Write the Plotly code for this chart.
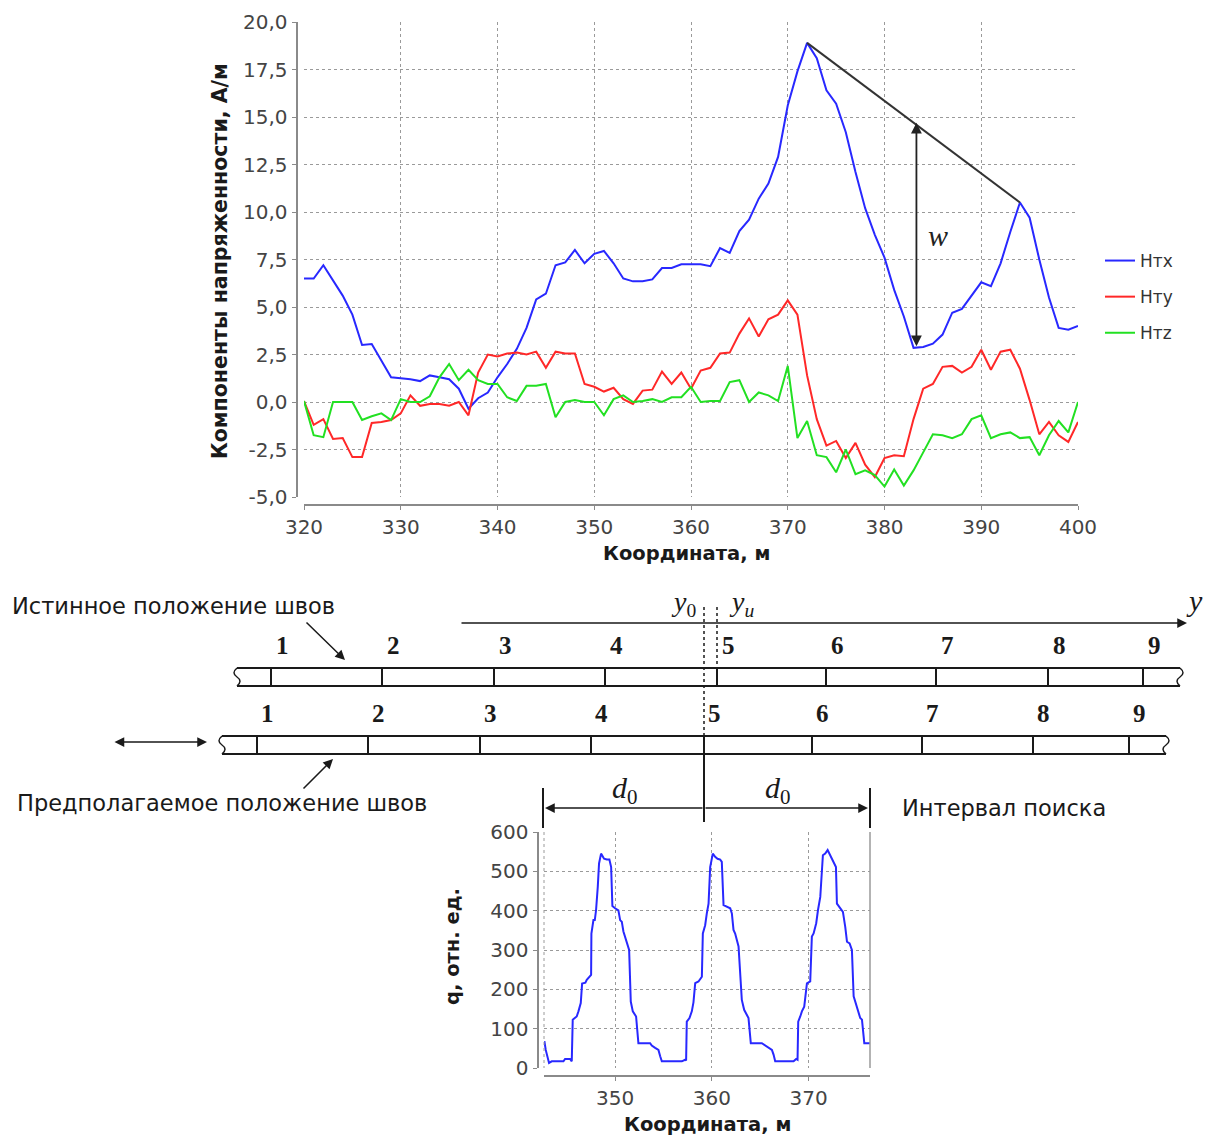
import plotly.graph_objects as go

W, H = 1205, 1137


def px(x):
    return x / W


def py(y):
    return 1 - y / H


# ---------------- top chart data ----------------
coord = list(range(320, 401))
htx = [6.5, 6.5, 7.2, 6.4, 5.6, 4.6, 3.0, 3.05, 2.2, 1.3,
       1.25, 1.2, 1.1, 1.4, 1.3, 1.2, 0.7, -0.35, 0.2, 0.5,
       1.3, 2.0, 2.8, 3.9, 5.4, 5.7, 7.2, 7.35, 8.0, 7.3,
       7.8, 7.95, 7.3, 6.5, 6.35, 6.35, 6.45, 7.05, 7.05, 7.25,
       7.25, 7.25, 7.15, 8.1, 7.85, 9.0, 9.6, 10.7, 11.5, 12.9,
       15.6, 17.4, 18.9, 18.1, 16.4, 15.7, 14.2, 12.1, 10.2, 8.8,
       7.6, 5.9, 4.5, 2.85, 2.9, 3.07, 3.55, 4.7, 4.9, 5.6,
       6.3, 6.1, 7.3, 8.95, 10.5, 9.7, 7.5, 5.5, 3.9, 3.8,
       4.0]
hty = [0.05, -1.2, -0.9, -1.95, -1.9, -2.9, -2.9, -1.1, -1.05, -0.95,
       -0.6, 0.35, -0.2, -0.1, -0.1, -0.2, 0.0, -0.7, 1.55, 2.5,
       2.4, 2.55, 2.6, 2.5, 2.65, 1.8, 2.65, 2.55, 2.55, 0.95,
       0.8, 0.55, 0.75, 0.15, -0.1, 0.6, 0.65, 1.6, 0.95, 1.55,
       0.7, 1.65, 1.8, 2.55, 2.6, 3.6, 4.4, 3.45, 4.35, 4.6,
       5.35, 4.6, 1.4, -0.9, -2.3, -2.05, -2.95, -2.15, -3.3, -3.95,
       -2.95, -2.8, -2.85, -0.9, 0.7, 0.95, 1.85, 1.9, 1.55, 1.85,
       2.75, 1.7, 2.65, 2.75, 1.75, 0.1, -1.7, -1.05, -1.75, -2.1,
       -1.05]
htz = [0.05, -1.75, -1.85, 0.0, 0.0, 0.0, -0.95, -0.75, -0.6, -0.95,
       0.15, 0.0, 0.0, 0.3, 1.3, 2.0, 1.15, 1.7, 1.15, 0.95,
       0.95, 0.25, 0.05, 0.85, 0.85, 0.95, -0.8, 0.0, 0.1, 0.0,
       0.0, -0.7, 0.15, 0.35, 0.0, 0.05, 0.15, 0.0, 0.25, 0.25,
       0.8, 0.0, 0.05, 0.05, 1.05, 1.15, 0.0, 0.5, 0.35, 0.05,
       1.9, -1.9, -1.0, -2.8, -2.9, -3.7, -2.5, -3.8, -3.6, -3.85,
       -4.45, -3.55, -4.4, -3.6, -2.65, -1.7, -1.75, -1.9, -1.7, -0.9,
       -0.7, -1.9, -1.7, -1.6, -1.9, -1.85, -2.8, -1.75, -1.0, -1.6,
       0.0]
top_yticks = [-5, -2.5, 0, 2.5, 5, 7.5, 10, 12.5, 15, 17.5, 20]
top_yticklabels = ["-5,0", "-2,5", "0,0", "2,5", "5,0", "7,5", "10,0",
                   "12,5", "15,0", "17,5", "20,0"]
top_xticks = [320, 330, 340, 350, 360, 370, 380, 390, 400]
series_names = ["Нтх", "Нту", "Нтz"]

# ---------------- bottom chart data ----------------
q_coord = [342.69, 342.83, 343.17, 343.45, 344.66, 344.83, 345.34, 345.52,
           345.62, 346.03, 346.21, 346.45, 346.59, 346.93, 347.07, 347.52,
           347.55, 347.76, 347.9, 348.03, 348.21, 348.34, 348.55, 348.72,
           348.86, 349.14, 349.41, 349.59, 349.72, 350.0, 350.34, 350.52,
           350.69, 350.86, 351.21, 351.45, 351.62, 351.83, 352.17, 352.41,
           353.62, 353.79, 354.14, 354.48, 354.66, 354.83, 356.9, 357.24,
           357.34,
           357.41, 357.69, 357.93, 358.1, 358.28, 358.62, 358.97, 359.07,
           359.31, 359.48, 359.66, 359.83, 360.1, 360.34, 360.59, 360.86,
           361.03, 361.21, 361.55, 361.9, 362.07, 362.24, 362.41, 362.76,
           363.1, 363.34, 363.79, 364.03, 365.17, 365.69, 366.21, 366.38,
           366.55, 368.45, 368.72, 368.86,
           368.93, 369.14, 369.31, 369.55, 369.83, 370.17, 370.34, 370.52,
           370.79, 370.97, 371.21, 371.48, 371.72, 371.97, 372.24, 372.59,
           372.83, 372.93, 373.34, 373.55, 373.79, 373.97, 374.24, 374.48,
           374.66, 374.83, 375.17, 375.34, 375.52, 375.76, 376.38]
q_vals = [68, 46, 13, 17, 17, 23, 23, 17,
          123, 131, 144, 165, 215, 217, 224, 237,
          342, 376, 376, 401, 461, 520, 545, 537,
          532, 530, 530, 511, 412, 406, 401, 376,
          372, 347, 317, 300, 169, 144, 131, 63,
          63, 57, 51, 46, 30, 17, 17, 21,
          19,
          118, 127, 144, 167, 216, 220, 232, 342,
          363, 393, 418, 511, 545, 537, 532, 530,
          524, 414, 410, 406, 393, 351, 342, 309,
          173, 148, 127, 63, 63, 55, 46, 34,
          17, 17, 23, 21,
          118, 131, 144, 156, 215, 220, 334, 342,
          368, 401, 435, 541, 545, 554, 541, 524,
          511, 418, 406, 397, 359, 321, 317, 300,
          182, 169, 144, 127, 123, 63, 63]
q_xticks = [350, 360, 370]
q_yticks = [0, 100, 200, 300, 400, 500, 600]

# ---------------- diagram (schematic, pixel positions) ----------------
true_seams = [271, 382, 494, 605, 717, 826, 936, 1048, 1143]
assumed_seams = [257, 368, 480, 591, 704, 812, 922, 1033, 1129]
seam_labels = ["1", "2", "3", "4", "5", "6", "7", "8", "9"]

BLUE = "#2828ff"
RED = "#ff2828"
GREEN = "#22e022"
INK = "#1a1a1a"
GRID = "#9a9a9a"
TICKC = "#444444"
FONT = "DejaVu Sans"
SERIF = "Liberation Serif"

fig = go.Figure()
for vals, name, col in zip([htx, hty, htz], series_names, [BLUE, RED, GREEN]):
    fig.add_trace(go.Scatter(x=coord, y=vals, mode="lines", name=name,
                             legendgroup=name,
                             line=dict(color=col, width=2),
                             xaxis="x", yaxis="y"))
fig.add_trace(go.Scatter(x=q_coord, y=q_vals, mode="lines", showlegend=False,
                         line=dict(color=BLUE, width=2),
                         xaxis="x2", yaxis="y2"))


def axis_style(size):
    return dict(showgrid=True, gridcolor=GRID, griddash="3px,3px", gridwidth=1,
                zeroline=False, showline=True, linecolor="#8a8a8a", linewidth=2,
                ticks="outside", ticklen=4, tickcolor="#8a8a8a",
                tickfont=dict(family=FONT, size=size, color=TICKC),
                anchor="free", automargin=False)


fig.update_layout(
    width=W, height=H,
    margin=dict(l=0, r=0, t=0, b=0, pad=0, autoexpand=False),
    paper_bgcolor="white", plot_bgcolor="white",
    xaxis=dict(domain=[px(304), px(1078)], range=[320, 400],
               tickvals=top_xticks, position=py(505), **axis_style(20)),
    yaxis=dict(domain=[py(497), py(22)], range=[-5, 20],
               tickvals=top_yticks, ticktext=top_yticklabels,
               position=px(296.5), **axis_style(20)),
    xaxis2=dict(domain=[px(544), px(870)], range=[342.65, 376.35],
                tickvals=q_xticks, position=py(1076), **axis_style(20)),
    yaxis2=dict(domain=[py(1068), py(832)], range=[0, 600],
                tickvals=q_yticks, position=px(537.5), **axis_style(20)),
    legend=dict(x=px(1100), y=py(243), xanchor="left", yanchor="top",
                font=dict(family=FONT, size=17, color="#333"),
                traceorder="grouped", tracegroupgap=11, itemwidth=30,
                bgcolor="rgba(0,0,0,0)"),
    showlegend=True,
)

shapes = []
annotations = []


def pline(x0, y0, x1, y1, width=2, dash="solid", color=INK):
    shapes.append(dict(type="line", xref="paper", yref="paper",
                       x0=px(x0), y0=py(y0), x1=px(x1), y1=py(y1),
                       line=dict(color=color, width=width, dash=dash)))


def ptext(x, y, text, size, family=FONT, xanchor="left", color=INK, angle=0):
    annotations.append(dict(xref="paper", yref="paper", x=px(x), y=py(y),
                            text=text, showarrow=False, xanchor=xanchor,
                            yanchor="middle", textangle=angle,
                            font=dict(family=family, size=size, color=color)))


def parrow(x_head, y_head, x_tail, y_tail, both=False, width=1.5):
    annotations.append(dict(xref="paper", yref="paper", x=px(x_head), y=py(y_head),
                            ax=x_tail - x_head, ay=y_tail - y_head,
                            text="", showarrow=True, arrowhead=2, arrowsize=1.3,
                            arrowwidth=width, arrowcolor=INK, standoff=0,
                            startstandoff=0, startarrowhead=2, startarrowsize=1.3,
                            arrowside="end+start" if both else "end"))


# ---- top chart overlays: envelope line and w arrow (from data) ----
i_peak = htx.index(max(htx))
after = htx[i_peak:]
i_valley = i_peak + after.index(min(after))
rest = htx[i_valley:]
i_second = i_valley + rest.index(max(rest))
xp, yp = coord[i_peak], htx[i_peak]
xs, ys = coord[i_second], htx[i_second]
xv, yv = coord[i_valley], htx[i_valley]
y_env = yp + (xv - xp) / (xs - xp) * (ys - yp)
shapes.append(dict(type="line", xref="x", yref="y", x0=xp, y0=yp, x1=xs, y1=ys,
                   line=dict(color="#333", width=2)))
annotations.append(dict(xref="x", yref="y", x=xv + 0.3, y=y_env, axref="x", ayref="y",
                        ax=xv + 0.3, ay=yv, text="", showarrow=True, arrowhead=2,
                        arrowsize=1.2, arrowwidth=1.8, arrowcolor="#222",
                        startarrowhead=2, startarrowsize=1.2,
                        arrowside="end+start", standoff=0, startstandoff=0))
annotations.append(dict(xref="x", yref="y", x=(xv + xs) / 2 - 3.0, y=(yv + y_env) / 2,
                        text="<i>w</i>", showarrow=False,
                        font=dict(family=SERIF, size=30, color="#222")))

# axis titles
ptext(220, 261, "<b>Компоненты напряженности, А/м</b>", 20.5, xanchor="center", angle=-90)
ptext(686, 553, "<b>Координата, м</b>", 19.5, xanchor="center")
ptext(452, 947, "<b>q, отн. ед.</b>", 19.5, xanchor="center", angle=-90)
ptext(707, 1124, "<b>Координата, м</b>", 19.5, xanchor="center")

# bottom chart frame bits
pline(544, 832, 544, 1068, width=1, dash="dot", color=GRID)
pline(870, 832, 870, 1068, width=1.5, color="#9a9a9a")

# ---- diagram ----
ptext(10, 606, "Истинное положение швов", 22.5)
parrow(345, 660, 305, 621)

# y axis arrow
parrow(1187, 623, 460, 623, width=1.5)
ptext(1194, 600, "<i>y</i>", 30, family=SERIF, xanchor="center")
ptext(683, 603, "<i>y</i><sub>0</sub>", 28, family=SERIF, xanchor="center")
ptext(741, 603, "<i>y<sub>u</sub></i>", 28, family=SERIF, xanchor="center")

# dotted reference lines
pline(704, 607, 704, 736, width=1.5, dash="dot")
pline(717, 607, 717, 668, width=1.5, dash="dot")


def pipe(x0, x1, ytop, ybot, seams):
    pline(x0, ytop, x1, ytop)
    pline(x0, ybot, x1, ybot)
    ym = (ytop + ybot) / 2
    for xe, d in ((x0, -1), (x1, 1)):
        path = (f"M {px(xe)},{py(ytop)} Q {px(xe + 6 * d)},{py(ytop + 5)} {px(xe)},{py(ym)} "
                f"Q {px(xe - 6 * d)},{py(ybot - 5)} {px(xe)},{py(ybot)}")
        shapes.append(dict(type="path", xref="paper", yref="paper", path=path,
                           line=dict(color=INK, width=1.5)))
    for s in seams:
        pline(s, ytop, s, ybot)


pipe(237, 1180, 668, 686, true_seams)
pipe(222, 1166, 736, 754, assumed_seams)
for s, lab in zip(true_seams, seam_labels):
    ptext(s + 11, 645, f"<b>{lab}</b>", 25, family=SERIF, xanchor="center")
for s, lab in zip(assumed_seams, seam_labels):
    ptext(s + 10, 713, f"<b>{lab}</b>", 25, family=SERIF, xanchor="center")

parrow(207, 742, 113, 742, both=True)
parrow(333, 759, 302, 790)
ptext(15, 803, "Предполагаемое положение швов", 22.5)

# search interval
pline(704, 754, 704, 822)
pline(543, 788, 543, 828)
pline(870, 788, 870, 828)
parrow(545, 808, 704, 808)
parrow(868, 808, 704, 808)
ptext(625, 790, "<i>d</i><sub>0</sub>", 30, family=SERIF, xanchor="center")
ptext(778, 790, "<i>d</i><sub>0</sub>", 30, family=SERIF, xanchor="center")
ptext(900, 808, "Интервал поиска", 22.5)

fig.update_layout(shapes=shapes, annotations=annotations)
fig.write_html("out.html",
               config={"displayModeBar": False},
               post_script="document.body.style.margin='0px';"
                           "document.body.style.overflow='hidden';")
